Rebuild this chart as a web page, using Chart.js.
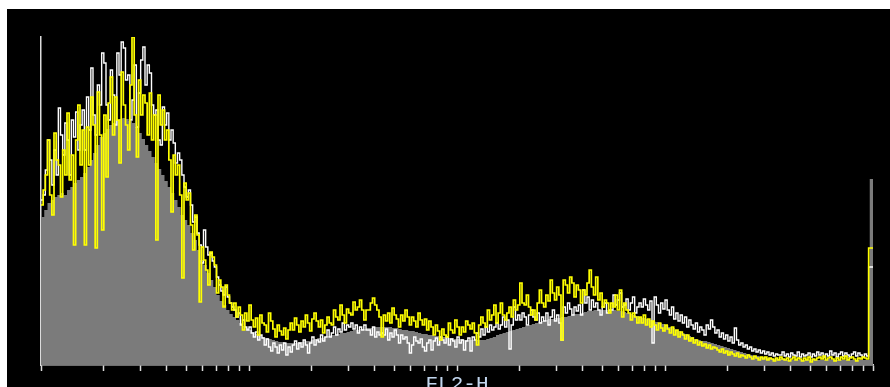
<!DOCTYPE html>
<html>
<head>
<meta charset="utf-8">
<script src="https://cdn.jsdelivr.net/npm/chart.js@4"></script>
<style>
  html, body { margin: 0; padding: 0; background: #ffffff; overflow: hidden; }
  #plot { position: absolute; left: 7px; top: 9px; width: 883px; height: 390px; background: #000000; }
  #plot canvas { display: block; }
</style>
</head>
<body>
<div id="plot"><canvas id="hist" width="883" height="390"></canvas></div>
<script>
// FL2-H histograms on 4 log decades (1 .. 10^4); channels are evenly spread on the log axis
const axisTicks = [1,2,3,4,5,6,7,8,9,10,20,30,40,50,60,70,80,90,100,200,300,400,500,600,700,800,900,1000,2000,3000,4000,5000,6000,7000,8000,9000,10000];
const axisTitle = 'FL2-H';

// filled sample (grey area), 256 channels
const greyCounts = [
  148,155,162,165,168,170,172,170,175,178,182,185,188,192,198,205,212,220,228,232,
  236,240,242,245,246,247,246,244,242,238,232,226,220,214,208,202,196,190,184,178,
  172,165,158,150,145,140,132,125,115,105,100,92,85,78,70,64,60,55,51,48,
  45,42,39,37,35,33,31,30,28,27,26,25,24,23,23,22,22,22,22,23,
  23,24,24,25,26,27,27,28,29,30,30,31,32,32,33,34,35,35,36,36,
  37,37,38,38,38,38,38,38,37,37,36,35,35,34,34,33,32,31,31,30,
  30,29,29,28,28,27,27,26,26,26,25,25,25,25,25,25,25,26,27,28,
  30,31,32,33,34,35,36,37,38,39,40,41,42,43,44,45,46,46,47,47,
  48,48,49,50,51,51,52,53,54,54,55,55,55,55,55,55,55,54,54,53,
  52,51,50,49,48,47,46,45,44,43,42,41,40,38,37,35,34,32,31,29,
  28,26,25,24,24,23,22,21,20,19,18,17,16,15,14,13,12,11,10,9,
  9,8,8,7,7,6,6,6,6,5,5,5,6,5,5,5,5,6,5,5,
  5,5,6,5,5,5,5,5,6,5,5,5,5,5,5,186
];

// outline sample (white line), 384 channels
const whiteCounts = [
  165,170,195,225,205,180,215,190,257,230,210,242,225,190,245,228,253,215,240,255,
  215,268,235,297,250,230,280,260,312,302,260,245,295,270,240,312,290,323,317,285,
  290,245,265,300,238,272,305,318,280,300,292,260,250,255,225,220,258,240,252,225,
  235,222,202,212,205,190,178,168,175,160,143,148,132,120,102,135,118,110,112,104,
  98,88,80,74,70,78,68,62,58,55,48,52,40,45,38,35,38,32,28,33,
  25,30,27,20,26,18,14,22,18,12,20,15,22,10,18,13,20,24,16,22,
  18,25,20,12,22,28,20,25,23,30,24,28,35,28,32,38,30,36,33,42,
  35,40,38,42,36,40,32,38,35,40,35,35,30,38,28,33,30,32,30,36,
  25,32,28,35,30,22,30,26,28,22,12,20,28,24,22,26,18,14,22,25,
  15,24,27,20,28,25,22,28,20,26,24,18,28,22,25,15,24,27,14,28,
  25,32,28,36,30,38,33,40,35,38,42,36,40,48,38,45,16,40,58,45,
  50,45,52,48,40,50,55,48,45,52,42,48,44,52,40,48,55,44,50,42,
  25,58,52,62,56,50,58,54,60,50,75,62,68,55,65,58,62,55,50,58,
  62,52,55,55,70,60,65,72,58,60,66,55,62,68,52,58,62,58,66,60,
  55,64,22,68,60,52,62,56,65,55,50,58,46,52,44,50,42,48,38,45,
  40,36,42,33,38,35,30,40,36,45,38,32,35,28,32,26,30,24,28,22,
  37,25,20,22,18,20,16,18,14,16,13,15,12,14,11,13,10,12,9,11,
  10,10,13,9,11,8,12,10,9,13,8,11,9,10,12,8,11,9,13,10,
  12,8,11,9,14,10,12,8,11,13,9,12,10,8,11,13,9,12,10,8,
  11,9,98,98
];

// overlaid sample (yellow line), 384 channels
const yellowCounts = [
  160,175,190,225,170,150,232,205,200,168,215,190,252,185,210,120,225,260,200,235,
  120,238,200,268,240,117,273,230,135,250,188,262,288,230,268,245,202,293,260,240,
  215,280,328,250,208,285,250,270,262,230,272,225,250,125,270,240,255,225,235,205,
  153,210,190,200,170,87,182,165,172,140,115,150,130,63,118,105,95,80,113,108,
  100,72,85,78,58,80,70,62,55,62,48,58,50,35,52,44,60,45,38,47,
  30,50,42,40,33,52,44,36,28,40,34,30,37,26,35,42,35,47,40,33,
  44,38,50,42,34,46,52,44,38,45,32,40,48,42,40,55,48,45,60,50,
  42,56,52,50,63,55,58,65,55,45,55,55,62,67,60,55,48,28,50,44,
  52,42,57,50,46,38,50,44,55,48,40,48,44,38,52,45,40,46,35,44,
  38,30,40,34,25,36,30,28,42,35,32,45,38,30,38,33,44,40,36,42,
  32,20,40,48,42,38,55,45,50,60,42,52,62,50,45,52,58,48,65,55,
  60,82,62,60,70,58,50,55,45,62,75,62,58,70,64,85,72,65,78,70,
  25,85,80,72,88,82,68,80,75,62,75,70,82,95,78,70,88,65,72,58,
  65,62,52,62,58,70,55,75,48,62,55,52,45,52,48,42,48,42,50,40,
  46,38,44,40,35,42,37,34,40,36,32,38,30,35,28,33,30,26,30,24,
  27,22,25,20,23,19,21,17,20,16,18,17,15,13,16,12,14,10,13,11,
  9,12,8,10,9,7,10,8,6,9,7,5,8,6,8,5,7,6,4,7,
  5,8,6,5,7,4,6,8,5,7,6,4,7,5,8,3,6,5,7,8,
  6,9,5,7,8,6,4,7,5,8,6,9,5,7,8,6,4,7,6,8,
  7,6,117,117
];

// channel i of n covers [edge(i), edge(i+1)] on the FL2-H log scale; each channel
// becomes a flat top between its edges, so the joined polyline is a step histogram
const channelEdge = (i, n) => Math.pow(10, 4 * i / n);
const toSteps = counts => counts.flatMap((v, i) => [
  { x: channelEdge(i, counts.length), y: v },
  { x: channelEdge(i + 1, counts.length), y: v }
]);

const axisColor = '#dcdcdc';

new Chart(document.getElementById('hist'), {
  type: 'line',
  data: {
    datasets: [
      {
        label: 'yellow',
        data: toSteps(yellowCounts),
        borderColor: '#ffff00',
        borderWidth: 1.7,
        pointRadius: 0,
        fill: false,
        order: 0
      },
      {
        label: 'white',
        data: toSteps(whiteCounts),
        borderColor: '#ffffff',
        borderWidth: 1.4,
        pointRadius: 0,
        fill: false,
        order: 1
      },
      {
        label: 'grey',
        data: toSteps(greyCounts),
        borderColor: '#7b7b7b',
        borderWidth: 0,
        backgroundColor: '#7b7b7b',
        pointRadius: 0,
        fill: 'origin',
        order: 2
      }
    ]
  },
  options: {
    responsive: false,
    animation: false,
    devicePixelRatio: 1,
    layout: { padding: { left: 34, top: 28, right: 17, bottom: 0 } },
    plugins: { legend: { display: false }, tooltip: { enabled: false } },
    elements: { line: { tension: 0 } },
    scales: {
      x: {
        type: 'logarithmic',
        position: 'bottom',
        min: 1,
        max: 10000,
        afterBuildTicks: scale => { scale.ticks = axisTicks.map(v => ({ value: v })); },
        afterFit: scale => { scale.height = 34; },
        ticks: { autoSkip: false, maxRotation: 0, padding: 0, callback: () => '' },
        grid: {
          display: true,
          drawOnChartArea: false,
          drawTicks: true,
          tickLength: 6,
          tickWidth: 1.5,
          color: axisColor,
          tickColor: axisColor
        },
        border: { display: true, color: axisColor, width: 1.5 },
        title: {
          display: true,
          text: axisTitle,
          color: '#c2d6ee',
          font: { family: 'Liberation Mono', size: 21 },
          padding: { top: 0, bottom: 2 }
        }
      },
      y: {
        type: 'linear',
        min: 0,
        max: 328,
        afterFit: scale => { scale.width = 0; },
        ticks: { display: false },
        grid: { display: false },
        border: { display: true, color: axisColor, width: 1.5 }
      }
    }
  }
});
</script>
</body>
</html>
